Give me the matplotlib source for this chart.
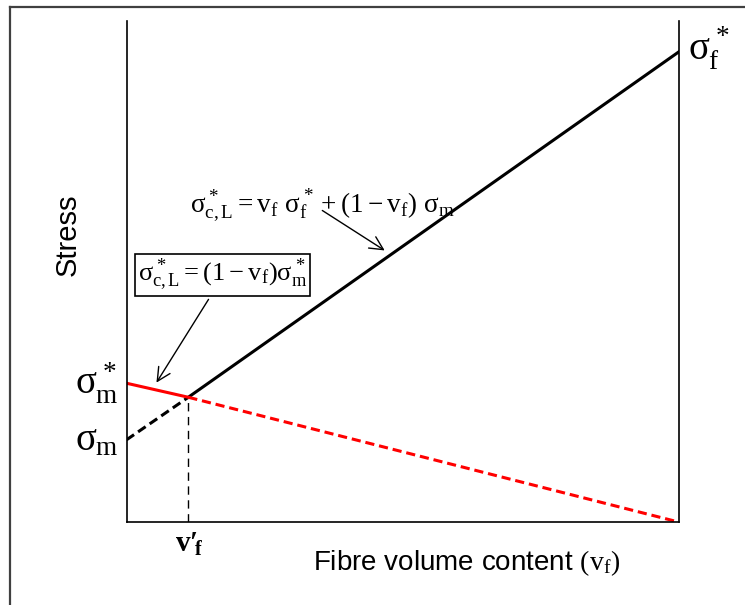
import matplotlib
matplotlib.use("Agg")
import matplotlib.pyplot as plt
from matplotlib.lines import Line2D

plt.rcParams["mathtext.fontset"] = "custom"
plt.rcParams["mathtext.rm"] = "Liberation Serif"
plt.rcParams["mathtext.it"] = "Liberation Serif"
plt.rcParams["mathtext.bf"] = "Liberation Serif:bold"

# values (stress in arbitrary units, 0..1 axis)
vf = [0.0, 0.112, 1.0]
stress_black = [0.164, 0.249, 0.938]   # vf*sf* + (1-vf)*sm
stress_red = [0.277, 0.249, 0.0]       # (1-vf)*sm*
vf_prime = vf[1]
stress_cross = stress_black[1]

W, H = 745, 605
fig = plt.figure(figsize=(W / 100, H / 100), dpi=100)
ax = fig.add_axes([126.5 / W, 1 - 522 / H, 552 / W, 501 / H])
ax.set_xlim(0, 1)
ax.set_ylim(0, 1)
ax.set_xticks([])
ax.set_yticks([])
ax.spines["top"].set_visible(False)
for s in ["left", "bottom", "right"]:
    ax.spines[s].set_linewidth(1.2)

# lines
ax.plot(vf[:2], stress_black[:2], color="black", lw=2.2, ls=(0, (3, 1.6)), solid_capstyle="butt")
ax.plot(vf[1:], stress_black[1:], color="black", lw=2.2)
ax.plot(vf[:2], stress_red[:2], color="red", lw=2.2)
ax.plot(vf[1:], stress_red[1:], color="red", lw=2.2, ls=(0, (3, 1.6)))
ax.plot([vf_prime, vf_prime], [0, stress_cross], color="black", lw=1.0, ls=(0, (6, 4)))

# labels
ax.text(-0.107, 0.573, "Stress", rotation=90, ha="center", va="center",
        fontsize=21, family="Liberation Sans", transform=ax.transAxes)
ax.text(0.617, -0.096, r"Fibre volume content $(\mathrm{v_f})$", ha="center", va="baseline",
        fontsize=20, family="Liberation Sans", transform=ax.transAxes)

ax.text(-0.014, 0.257, r"$\sigma_\mathrm{m}^*$", ha="right", va="baseline", fontsize=28)
ax.text(-0.014, 0.144, r"$\sigma_\mathrm{m}$", ha="right", va="baseline", fontsize=28)
ax.text(1.017, 0.922, r"$\sigma_\mathrm{f}^*$", ha="left", va="baseline", fontsize=28)
ax.text(vf_prime + 0.002, -0.06, r"$\mathbf{v}\mathbf{′}\!{}_{\mathbf{f}}$",
        ha="center", va="baseline", fontsize=21)

ax.text(0.115, 0.619, r"$\sigma_\mathrm{c,L}^* = \mathrm{v_f}\ \sigma_\mathrm{f}^* + (1-\mathrm{v_f})\ \sigma_\mathrm{m}$",
        ha="left", va="baseline", fontsize=19.5)
ax.annotate("", xy=(0.472, 0.539), xytext=(0.3505, 0.6248),
            arrowprops=dict(arrowstyle="->", lw=1.0, color="black", mutation_scale=24))

ax.text(0.174, 0.493, r"$\sigma_\mathrm{c,L}^* = (1-\mathrm{v_f})\sigma_\mathrm{m}^*$",
        ha="center", va="center", fontsize=19,
        bbox=dict(boxstyle="square,pad=0.1", fc="white", ec="black", lw=1.2))
ax.annotate("", xy=(0.0516, 0.2735), xytext=(0.1513, 0.4491),
            arrowprops=dict(arrowstyle="->", lw=1.0, color="black", mutation_scale=24))

# outer frame (top and left edges only visible)
fig.add_artist(Line2D([10 / W, 1], [1 - 7 / H, 1 - 7 / H], transform=fig.transFigure,
                      color="#404040", lw=1.6))
fig.add_artist(Line2D([10 / W, 10 / W], [0, 1 - 7 / H], transform=fig.transFigure,
                      color="#404040", lw=1.6))

fig.savefig("out.png", dpi=100)
